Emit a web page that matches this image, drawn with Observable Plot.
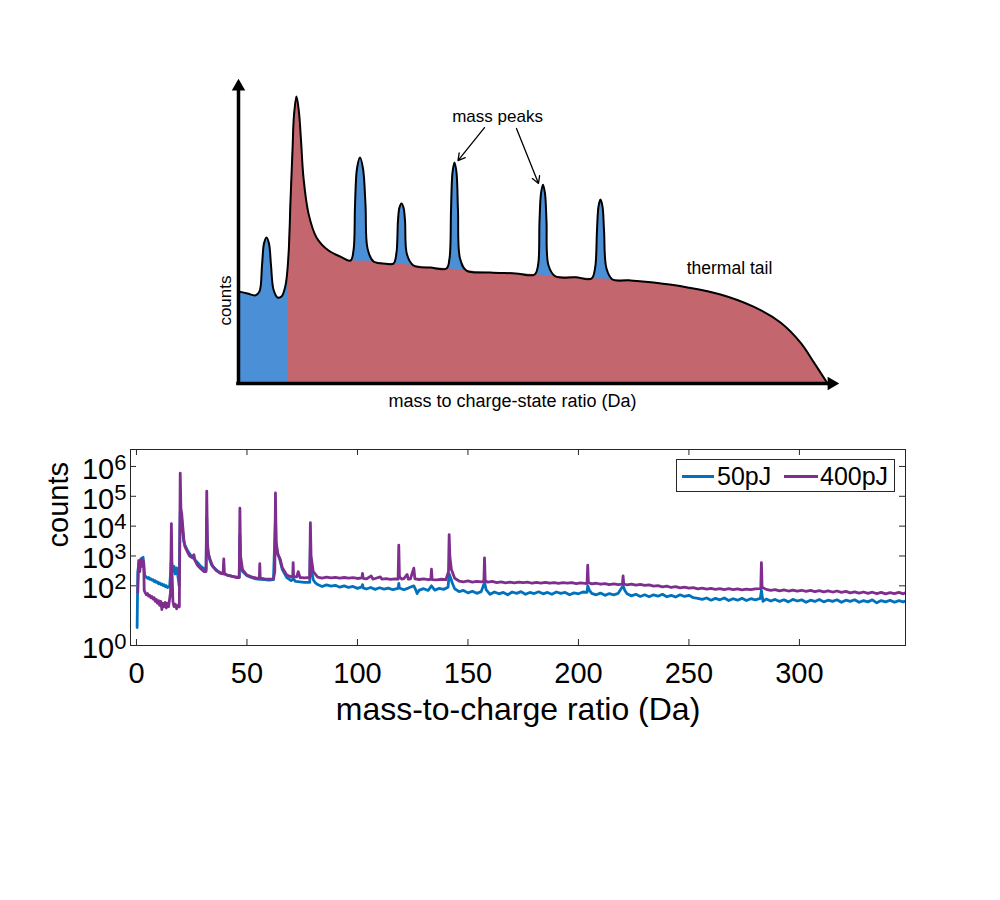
<!DOCTYPE html>
<html>
<head>
<meta charset="utf-8">
<script src="https://cdn.jsdelivr.net/npm/d3@7"></script>
<script src="https://cdn.jsdelivr.net/npm/@observablehq/plot@0.6"></script>
<style>
  body { margin: 0; background: #fff; font-family: "Liberation Sans", Arial, sans-serif; }
  #wrap { position: relative; width: 1000px; height: 900px; overflow: hidden; }
  #top { position: absolute; left: 0; top: 0; }
  #bottom { position: absolute; left: 0; top: 430px; }
  #legend { position: absolute; left: 676px; top: 459px; width: 217px; height: 31px;
            border: 1px solid #262626; background: #fff; font-size: 25px; color: #000; }
  #legend .sw { position: absolute; top: 15px; height: 2.5px; }
  #legend .lb { position: absolute; top: 1px; line-height: 30px; }
</style>
</head>
<body>
<div id="wrap">
  <div id="top"></div>
  <div id="bottom"></div>
  <div id="legend">
    <div class="sw" style="left:5px;width:32px;background:#0072BD"></div>
    <div class="lb" style="left:40px">50pJ</div>
    <div class="sw" style="left:107px;width:34px;background:#7E2F8E"></div>
    <div class="lb" style="left:143px">400pJ</div>
  </div>
</div>
<script>
// ---------- Schematic (top), arbitrary units 0-100 ----------
// full envelope: [x, y]
const envelope = [
  [0, 30.2], [1.5, 29.5], [2.83, 28.9], [3.5, 30.2], [3.92, 38.7], [4.25, 45.9], [4.67, 47.9],
  [5.08, 45.9], [5.42, 38.7], [5.83, 30.8], [6.5, 28.2], [7.17, 28.5], [7.83, 32.1],
  [8.33, 42.0], [8.67, 60.0], [9.0, 76.4], [9.25, 87.9], [9.67, 94.1], [10.08, 88.9],
  [10.42, 79.7], [10.83, 67.5], [11.67, 55.7], [13.0, 47.9], [15.0, 43.6], [17.0, 41.6],
  [18.67, 40.3],
  [19.17, 43.6], [19.42, 58.4], [19.75, 70.5], [20.25, 74.1], [20.75, 70.5], [21.17, 58.4],
  [21.5, 44.3], [22.5, 40.0], [24.5, 39.3],
  [25.83, 39.3], [26.33, 42.9], [26.58, 53.4], [26.83, 57.7], [27.17, 59.0], [27.5, 57.7],
  [27.75, 53.4], [28.08, 42.3], [29.17, 38.7], [32.0, 38.0],
  [34.67, 37.7], [35.17, 41.0], [35.42, 56.7], [35.67, 69.2], [36.0, 72.5], [36.33, 69.2],
  [36.58, 56.7], [36.92, 41.0], [38.0, 37.0], [42.0, 36.4], [46.17, 36.1],
  [49.33, 35.7], [49.92, 38.7], [50.17, 53.4], [50.42, 62.3], [50.75, 65.2], [51.08, 62.3],
  [51.33, 53.4], [51.67, 38.7], [52.83, 35.1], [56.17, 34.8],
  [58.83, 34.4], [59.42, 37.7], [59.75, 50.2], [60.0, 58.0], [60.33, 60.3], [60.67, 58.0],
  [60.92, 50.2], [61.33, 37.7], [62.33, 34.1],
  [65.33, 33.8], [69.17, 33.1], [74.83, 31.5], [80.33, 29.2], [85.83, 25.2], [90.33, 20.0],
  [93.67, 13.4], [96.0, 6.6], [98.17, 0]
];
// thermal tail (main peak + background, without the small mass peaks)
const thermalTail = [
  [8.33, 42.0], [8.67, 60.0], [9.0, 76.4], [9.25, 87.9], [9.67, 94.1], [10.08, 88.9],
  [10.42, 79.7], [10.83, 67.5], [11.67, 55.7], [13.0, 47.9], [15.0, 43.6], [17.0, 41.6],
  [18.67, 40.3], [22.5, 40.0], [24.5, 39.3], [25.83, 39.3], [29.17, 38.7], [32.0, 38.0],
  [34.67, 37.7], [38.0, 37.0], [42.0, 36.4], [46.17, 36.1], [49.33, 35.7], [52.83, 35.1],
  [56.17, 34.8], [58.83, 34.4], [62.33, 34.1], [65.33, 33.8], [69.17, 33.1], [74.83, 31.5],
  [80.33, 29.2], [85.83, 25.2], [90.33, 20.0], [93.67, 13.4], [96.0, 6.6], [98.17, 0]
];
const peakArrows = [
  {x1: 41.0, y1: 83.9, x2: 36.58, y2: 73.1},
  {x1: 46.33, y1: 83.6, x2: 50.0, y2: 65.6}
];
const schematicLabels = [
  {x: 43.17, y: 87.5, text: "mass peaks", size: 17},
  {x: 81.83, y: 37.7, text: "thermal tail", size: 17.5},
  {x: 45.67, y: -5.9, text: "mass to charge-state ratio (Da)", size: 18}
];

// ---------- Spectrum (bottom): [mass-to-charge (Da), counts] ----------
const spectrum50pJ = [
  [0.3,4],[0.6,300],[1.0,500],[1.5,700],[2.0,600],[2.5,850],[3.0,900],[3.3,500],[3.7,220],[4.5,195],
  [5,180],[5.5,190],[6,165],[6.5,172],[7,155],[7.5,160],[8,140],[8.5,148],[9,130],[9.5,136],
  [10,118],[10.5,125],[11,110],[11.5,116],[12,102],[12.5,108],[13,95],[13.5,100],[14,88],[14.5,92],
  [15,95],[15.5,300],[15.8,800],[16.3,300],[17,450],[17.5,250],[18.2,400],[18.8,200],[19.3,100],
  [19.8,30000],[20.1,20000],[20.5,15000],[21,6000],[21.5,3000],[22,2200],[23,1600],[24,1200],
  [25,950],[26,800],[27.5,620],[29,460],[30.5,380],[31.5,350],[31.8,20000],[32.1,2000],[33,800],
  [34,500],[35.5,380],[37,300],[39,260],[41,230],[43,210],[45,200],[46.5,190],[46.8,5000],
  [47.1,500],[48,300],[50,220],[52,190],[54,170],[56,165],[58,160],[60,155],[62,160],[62.9,20000],
  [63.2,2000],[64,1200],[65,700],[66,350],[68,190],[70,150],[71,170],[72,140],[74,135],[76,130],
  [78.4,130],[78.7,2000],[79,400],[80,160],[81,125],[82,110],[84,95],[86,108],[88,98],[90,104],
  [92,90],[94,100],[96,88],[98,95],[100,82],[102,92],[102.3,110],[102.6,85],[104,78],[106,88],
  [108,76],[110,86],[112,78],[114,84],[116,74],[118.4,82],[118.7,120],[119,85],[121,74],[123,84],
  [125.5,100],[126.5,70],[127,55],[128,72],[130,80],[132,70],[133.5,100],[135,72],[137,82],[139,76],
  [141,90],[141.5,250],[142,200],[143,120],[144,80],[146,64],[148,70],[150,58],[152,66],[154,56],
  [156,64],[157.5,130],[158.2,75],[160,52],[162,62],[164,54],[166,60],[168,50],[170,62],[172,56],
  [174,64],[176,52],[178,60],[180,55],[182,63],[184,54],[186,60],[188,52],[190,62],[192,56],
  [194,60],[196,50],[198,58],[200,54],[202,62],[203.9,60],[204.2,100],[205,70],[206,56],[208,50],
  [210,57],[212,48],[214,55],[216,50],[218,56],[220.2,100],[221,70],[222,54],[224,46],[226,52],
  [228,44],[230,50],[232,43],[234,50],[236,45],[238,52],[240,43],[242,48],[244,42],[246,50],
  [248,44],[250,48],[252,40],[254,38],[256,35],[258,39],[260,33],[262,38],[264,34],[266,39],
  [268,32],[270,37],[272,33],[274,38],[276,32],[278,37],[280,34],[282.3,38],[282.8,70],[283.5,30],
  [285,36],[287,31],[289,35],[291,30],[293,34],[295,29],[297,35],[299,31],[301,34],[303,28],
  [305,33],[307,30],[309,35],[311,29],[313,33],[315,30],[317,34],[319,28],[321,33],[323,30],
  [325,34],[327,28],[329,32],[331,29],[333,34],[335,27],[337,32],[339,29],[341,33],[343,28],
  [345,32],[347,29],[348,31]
];
const spectrum400pJ = [
  [0.6,60],[1.0,700],[1.5,300],[2.0,800],[2.5,450],[3.0,700],[3.3,600],[3.5,70],[4,58],[4.5,50],
  [5,55],[5.5,45],[6,48],[6.5,40],[7,44],[7.5,36],[8,40],[8.5,30],[9,35],[9.5,26],[10,32],
  [10.5,22],[11,30],[11.5,16],[12,26],[12.5,20],[13,28],[13.5,18],[14,26],[14.5,20],[14.8,28],
  [15.4,60],[15.8,12000],[16.1,300],[16.5,30],[17,20],[17.6,24],[18.2,17],[18.8,22],[19.4,20],
  [19.8,600000],[20.1,40000],[20.5,25000],[21,9000],[21.5,3000],[22,2000],[23,1400],[24,1000],
  [25,900],[26,1100],[26.5,700],[27.5,500],[29,380],[30.5,300],[31.5,300],[31.8,150000],[32.1,3000],
  [32.5,1200],[33.5,700],[34.5,450],[36,330],[38,260],[39.2,250],[39.5,800],[39.8,260],[41,230],
  [43,210],[45,190],[46.5,190],[46.8,40000],[47.1,1000],[48,350],[50,230],[52,200],[54,185],
  [55.6,180],[55.8,550],[56,180],[58,170],[60,168],[62,170],[62.6,300],[62.9,130000],[63.2,3000],
  [64,1100],[65,800],[66,400],[68,230],[70,200],[70.7,200],[70.9,600],[71.1,200],[72.5,200],
  [73.2,300],[74,190],[76,185],[78.4,190],[78.7,13000],[79,1000],[80,300],[82,195],[84,182],
  [86,196],[88,185],[90,192],[92,180],[94,190],[96,182],[98,188],[100,176],[102,185],[102.3,260],
  [102.6,178],[104,170],[106.2,215],[107,168],[108,176],[110.4,200],[111,168],[113,174],[115,165],
  [117,172],[118.4,168],[118.7,2300],[119,200],[120,168],[121,174],[122.5,240],[123,166],[124,172],
  [125.5,390],[126,170],[128,163],[130,170],[132,160],[133.2,166],[133.5,360],[133.8,162],[136,158],
  [138,166],[140,160],[141.2,300],[141.5,5200],[141.8,1000],[142.5,350],[144,180],[146,145],
  [148,136],[150,146],[152,134],[154,142],[156,135],[157.2,140],[157.5,870],[157.8,150],[159,132],
  [161,140],[163,128],[165,136],[167,126],[169,133],[171,125],[173,134],[175,127],[177,132],
  [179,122],[181,130],[183,124],[185,131],[187,122],[189,129],[191,121],[193,128],[195,123],
  [197,129],[199,119],[201,126],[203.9,118],[204.2,490],[204.5,130],[206,116],[208,122],[210,113],
  [212,119],[214,110],[216,117],[218,109],[219.9,114],[220.2,215],[220.5,115],[222,108],[224,114],
  [226,105],[228,112],[230,104],[232,108],[234,98],[236,102],[238,92],[240,98],[242,88],[244,94],
  [246,85],[248,90],[250,83],[252,87],[254,79],[256,84],[258,77],[260,82],[262,76],[264,81],
  [266,75],[268,80],[270,74],[272,79],[274,73],[276,78],[278,74],[280,79],[282.5,80],[282.8,600],
  [283.1,90],[285,76],[287,70],[289,75],[291,68],[293,73],[295,67],[297,72],[299,66],[301,71],
  [303,65],[305,70],[307,64],[309,69],[311,63],[313,68],[315,62],[317,67],[319,60],[321,65],
  [323,58],[325,63],[327,57],[329,62],[331,56],[333,61],[335,55],[337,60],[339,54],[341,59],
  [343,55],[345,60],[347,54],[348,58]
];
const xTicks = [0, 50, 100, 150, 200, 250, 300];
const yTicks = [1, 1e2, 1e3, 1e4, 1e5, 1e6];

const font = '"Liberation Sans", Arial, sans-serif';

// ---------- Top schematic ----------
const env = envelope.map(([x, y]) => ({x, y}));
const tail = thermalTail.map(([x, y]) => ({x, y}));
const topPlot = Plot.plot({
  width: 1000, height: 430,
  marginLeft: 238, marginRight: 162, marginTop: 78, marginBottom: 47,
  x: {domain: [0, 100], axis: null},
  y: {domain: [0, 100], axis: null},
  style: {fontFamily: font, fontSize: "17px", color: "#000", background: "transparent"},
  marks: [
    Plot.areaY(env, {x: "x", y: "y", curve: "catmull-rom", fill: "#4b8fd6"}),
    Plot.areaY(tail, {x: "x", y: "y", curve: "catmull-rom", fill: "#c4666e"}),
    Plot.line(env, {x: "x", y: "y", curve: "catmull-rom", stroke: "#000", strokeWidth: 2}),
    Plot.ruleX([0], {y1: -0.6, y2: 96.5, stroke: "#000", strokeWidth: 3.5}),
    Plot.ruleY([0], {x1: -0.3, x2: 98.7, stroke: "#000", strokeWidth: 3.5}),
    Plot.dot([{x: 0, y: 100}], {x: "x", y: "y", symbol: "triangle", r: 5, fill: "#000", dy: 8}),
    Plot.dot([{x: 100, y: 0}], {x: "x", y: "y", symbol: "triangle", r: 5, fill: "#000", rotate: 90, dx: -7}),
    Plot.arrow(peakArrows, {x1: "x1", y1: "y1", x2: "x2", y2: "y2", stroke: "#000", strokeWidth: 1.3, headLength: 9}),
    Plot.text(schematicLabels, {x: "x", y: "y", text: "text", fontSize: "size", fill: "#000"}),
    Plot.text(["counts"], {x: -2.23, y: 27.2, text: d => d, rotate: -90, fontSize: 17, fill: "#000"})
  ]
});
document.getElementById("top").appendChild(topPlot);

// ---------- Bottom spectrum ----------
const rows50 = spectrum50pJ.map(([x, y]) => ({x, y}));
const rows400 = spectrum400pJ.map(([x, y]) => ({x, y}));
const axisColor = "#262626";
const bottomPlot = Plot.plot({
  width: 1000, height: 320,
  marginLeft: 130, marginRight: 95, marginTop: 19, marginBottom: 105,
  x: {domain: [-2.7, 348]},
  y: {type: "log", domain: [1, 3.7e6]},
  style: {fontFamily: font, color: "#000", background: "transparent"},
  marks: [
    Plot.line(rows50, {x: "x", y: "y", stroke: "#0072BD", strokeWidth: 2.8, clip: true}),
    Plot.line(rows400, {x: "x", y: "y", stroke: "#7E2F8E", strokeWidth: 2.8, clip: true}),
    Plot.frame({stroke: axisColor, strokeWidth: 1}),
    Plot.ruleX(xTicks, {stroke: axisColor, insetTop: 190}),
    Plot.ruleX(xTicks, {stroke: axisColor, insetBottom: 190}),
    Plot.ruleY(yTicks, {stroke: axisColor, insetRight: 769}),
    Plot.ruleY(yTicks, {stroke: axisColor, insetLeft: 769}),
    Plot.axisX({ticks: xTicks, tickSize: 0, tickPadding: 17, fontSize: 29, label: null, tickFormat: d => String(d)}),
    Plot.axisY({ticks: yTicks, tickSize: 0, tickPadding: 4, fontSize: 29, label: null, dy: 3,
                tickFormat: d => String(Math.round(Math.log10(d)))}),
    Plot.text(["counts"], {frameAnchor: "left", dx: -72, rotate: -90, text: d => d, fontSize: 29, fill: "#000"}),
    Plot.text(["mass-to-charge ratio (Da)"], {frameAnchor: "bottom", dy: 74, lineAnchor: "bottom", text: d => d, fontSize: 32, fill: "#000"})
  ]
});
bottomPlot.querySelectorAll('g[aria-label="y-axis tick label"] text').forEach(t => {
  const e = t.textContent;
  t.textContent = "10";
  const ts = document.createElementNS("http://www.w3.org/2000/svg", "tspan");
  ts.setAttribute("dy", "-9");
  ts.setAttribute("font-size", "22");
  ts.textContent = e;
  t.appendChild(ts);
});
document.getElementById("bottom").appendChild(bottomPlot);
</script>
</body>
</html>
